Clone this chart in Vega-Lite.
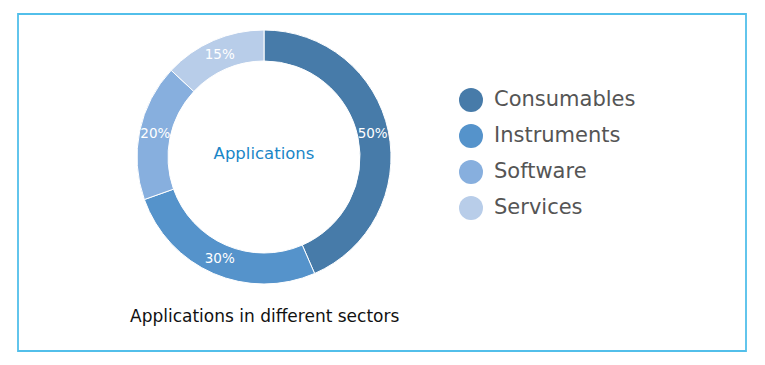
{
  "$schema": "https://vega.github.io/schema/vega-lite/v6.json",
  "width": 728,
  "height": 337,
  "autosize": {"type": "none"},
  "padding": {"left": 18, "top": 14, "right": 19, "bottom": 14},
  "background": "white",
  "view": {"stroke": "#52bfea", "strokeWidth": 1.8},
  "config": {
    "view": {"stroke": "#52bfea", "strokeWidth": 1.8},
    "font": "DejaVu Sans"
  },
  "title": {
    "text": "Applications in different sectors",
    "orient": "bottom",
    "anchor": "start",
    "dx": 112,
    "offset": -42,
    "fontSize": 17,
    "fontWeight": "normal",
    "color": "#111111",
    "font": "DejaVu Sans"
  },
  "data": {
    "values": [
      {"sector": "Consumables", "value": 50, "label": "50%"},
      {"sector": "Instruments", "value": 30, "label": "30%"},
      {"sector": "Software", "value": 20, "label": "20%"},
      {"sector": "Services", "value": 15, "label": "15%"}
    ]
  },
  "layer": [
    {
      "mark": {"type": "arc", "x": 246, "y": 143, "outerRadius": 127, "innerRadius": 96, "stroke": "white", "strokeWidth": 1},
      "encoding": {
        "theta": {"field": "value", "type": "quantitative", "stack": true},
        "order": {"field": "value", "sort": "descending"},
        "color": {
          "field": "sector",
          "type": "nominal",
          "sort": ["Consumables", "Instruments", "Software", "Services"],
          "scale": {
            "domain": ["Consumables", "Instruments", "Software", "Services"],
            "range": ["#477ba9", "#5593cb", "#87afde", "#b8cde9"]
          },
          "legend": {
            "orient": "none",
            "legendX": 441,
            "legendY": 74,
            "title": null,
            "symbolType": "circle",
            "symbolSize": 576,
            "symbolStrokeWidth": 0,
            "symbolOpacity": 1,
            "labelFontSize": 21,
            "labelColor": "#555555",
            "labelFont": "DejaVu Sans",
            "labelOffset": 11,
            "rowPadding": 12
          }
        }
      }
    },
    {
      "mark": {"type": "text", "x": 246, "y": 143, "radius": 111, "color": "white", "fontSize": 13.5, "font": "DejaVu Sans"},
      "encoding": {
        "theta": {"field": "value", "type": "quantitative", "stack": true},
        "order": {"field": "value", "sort": "descending"},
        "text": {"field": "label"}
      }
    },
    {
      "data": {"values": [{"t": "Applications"}]},
      "mark": {"type": "text", "x": 246, "y": 140, "fontSize": 16.5, "color": "#1a86c7", "font": "DejaVu Sans"},
      "encoding": {"text": {"field": "t"}}
    }
  ]
}
